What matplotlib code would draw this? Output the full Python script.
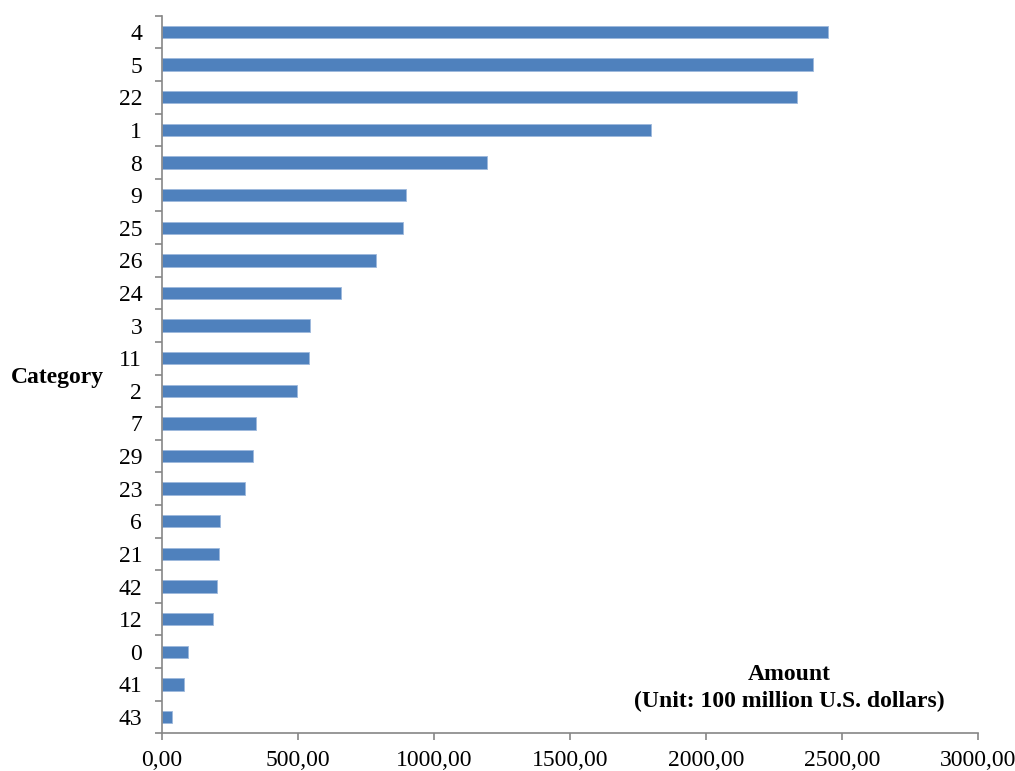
import numpy as np
import matplotlib
matplotlib.use("Agg")
import matplotlib.pyplot as plt
from matplotlib.ticker import FixedLocator, FuncFormatter

"""Data, top to bottom"""
categories = ["4", "5", "22", "1", "8", "9", "25", "26", "24", "3", "11",
              "2", "7", "29", "23", "6", "21", "42", "12", "0", "41", "43"]
amounts = [2449, 2396, 2337, 1800, 1195, 897, 888, 789, 660, 545, 543,
           497, 346, 337, 307, 214, 212, 204, 187, 98, 81, 37]
xticks = [0, 500, 1000, 1500, 2000, 2500, 3000]

plt.rcParams["font.family"] = ["Liberation Serif", "DejaVu Serif"]
axis_gray = "#868686"
fs = 17

fig = plt.figure(figsize=(10.15, 7.71), dpi=100)
ax = fig.add_axes([0.1593, 0.0489, 0.8040, 0.9307])

n = len(categories)
ypos = np.arange(n)[::-1]
ax.barh(ypos, amounts, height=0.38, color="#4F81BD",
        edgecolor="#9DB8DC", linewidth=0.6)

ax.set_xlim(0, 3000)
ax.set_ylim(-0.5, n - 0.5)
ax.set_xticks(xticks)
ax.xaxis.set_major_formatter(FuncFormatter(lambda v, p: f"{v:.2f}".replace(".", ",")))
ax.set_yticks(ypos)
ax.set_yticklabels(categories)
ax.yaxis.set_minor_locator(FixedLocator(np.arange(-0.5, n, 1.0)))

for s in ["top", "right"]:
    ax.spines[s].set_visible(False)
for s in ["left", "bottom"]:
    ax.spines[s].set_color(axis_gray)
    ax.spines[s].set_linewidth(1.2)

ax.tick_params(axis="y", which="major", length=0, pad=14, labelsize=fs)
ax.tick_params(axis="y", which="minor", length=5, width=1.2, color=axis_gray)
ax.tick_params(axis="x", which="major", length=5, width=1.2, color=axis_gray,
               pad=7, labelsize=fs)

fig.text(57 / 1015, 1 - 377 / 771, "Category", ha="center", va="center",
         fontsize=fs, fontweight="bold")
fig.text(789 / 1015, 1 - 688 / 771, "Amount\n(Unit: 100 million U.S. dollars)",
         ha="center", va="center", fontsize=fs, fontweight="bold",
         linespacing=1.35)

plt.savefig("out.png", dpi=100)
